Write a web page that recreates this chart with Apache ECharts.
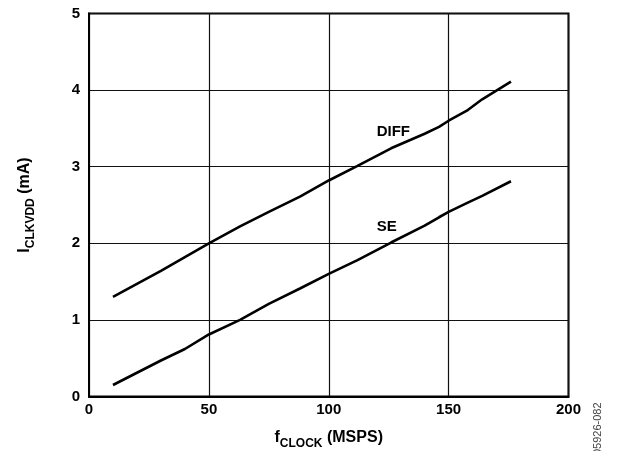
<!DOCTYPE html>
<html>
<head>
<meta charset="utf-8">
<script src="https://cdn.jsdelivr.net/npm/echarts@6/dist/echarts.min.js"></script>
<style>html,body{margin:0;padding:0;background:#fff}#c{width:620px;height:451px}</style>
</head>
<body>
<div id="c"></div>
<script>
var fClock = [10, 20, 30, 40, 50, 63, 75, 88, 100, 112, 126, 140, 146, 150, 158, 164, 176];
var diffValues = [1.30, 1.47, 1.64, 1.82, 2.00, 2.22, 2.41, 2.61, 2.82, 3.01, 3.24, 3.43, 3.52, 3.60, 3.74, 3.88, 4.11];
var seValues = [0.15, 0.31, 0.47, 0.62, 0.81, 1.00, 1.21, 1.41, 1.60, 1.78, 2.01, 2.23, 2.34, 2.41, 2.53, 2.62, 2.81];
var xTicks = [0, 50, 100, 150, 200];
var yTicks = [0, 1, 2, 3, 4, 5];
var seriesNames = ['DIFF', 'SE'];
var labelPos = [[120, 3.45], [120, 2.22]];

function pairs(xs, ys) { return xs.map(function (x, i) { return [x, ys[i]]; }); }

var FONT = '"Liberation Sans", Arial, sans-serif';
var richTitle = {
  b: { fontFamily: FONT, fontWeight: 'bold', fontSize: 16, color: '#000', verticalAlign: 'bottom' },
  s: { fontFamily: FONT, fontWeight: 'bold', fontSize: 12, color: '#000', verticalAlign: 'bottom', padding: [0, 0, -4, 0] }
};
var chart = echarts.init(document.getElementById('c'), null, { renderer: 'canvas' });
chart.setOption({
  animation: false,
  backgroundColor: '#fff',
  grid: { left: 89, top: 13.5, right: 51.5, bottom: 54.5, show: true, borderColor: '#000', borderWidth: 2, backgroundColor: 'transparent', containLabel: false, outerBoundsMode: 'none' },
  xAxis: {
    type: 'value', min: xTicks[0], max: xTicks[xTicks.length - 1], interval: 50,
    axisLine: { show: true, lineStyle: { color: '#000', width: 2 } },
    axisTick: { show: false },
    splitLine: { show: true, lineStyle: { color: '#111', width: 1.2 } },
    axisLabel: { color: '#000', fontFamily: FONT, fontWeight: 'bold', fontSize: 15, margin: 6 },
    name: '{b|f}{s|CLOCK}{b| (MSPS)}',
    nameLocation: 'middle', nameGap: 33,
    nameTextStyle: { rich: richTitle }
  },
  yAxis: {
    type: 'value', min: yTicks[0], max: yTicks[yTicks.length - 1], interval: 1,
    axisLine: { show: true, lineStyle: { color: '#000', width: 2 } },
    axisTick: { show: false },
    splitLine: { show: true, lineStyle: { color: '#111', width: 1.2 } },
    axisLabel: { color: '#000', fontFamily: FONT, fontWeight: 'bold', fontSize: 15, margin: 9 },
    name: '{b|I}{s|CLKVDD}{b| (mA)}',
    nameLocation: 'middle', nameGap: 56,
    nameTextStyle: { rich: richTitle }
  },
  series: [
    {
      name: seriesNames[0], type: 'line', data: pairs(fClock, diffValues), showSymbol: false,
      lineStyle: { color: '#000', width: 2.6 }, z: 5,
      markPoint: {
        symbol: 'rect', symbolSize: 0,
        label: { show: true, formatter: seriesNames[0], color: '#000', fontFamily: FONT, fontWeight: 'bold', fontSize: 15, position: 'right', distance: 0 },
        data: [{ coord: labelPos[0] }]
      }
    },
    {
      name: seriesNames[1], type: 'line', data: pairs(fClock, seValues), showSymbol: false,
      lineStyle: { color: '#000', width: 2.6 }, z: 5,
      markPoint: {
        symbol: 'rect', symbolSize: 0,
        label: { show: true, formatter: seriesNames[1], color: '#000', fontFamily: FONT, fontWeight: 'bold', fontSize: 15, position: 'right', distance: 0 },
        data: [{ coord: labelPos[1] }]
      }
    }
  ],
  graphic: [{
    type: 'text', x: 598, y: 455, rotation: Math.PI / 2,
    style: { text: '05926-082', fill: '#444', font: '11px ' + FONT, textAlign: 'left', textVerticalAlign: 'middle' }
  }]
});
</script>
</body>
</html>
